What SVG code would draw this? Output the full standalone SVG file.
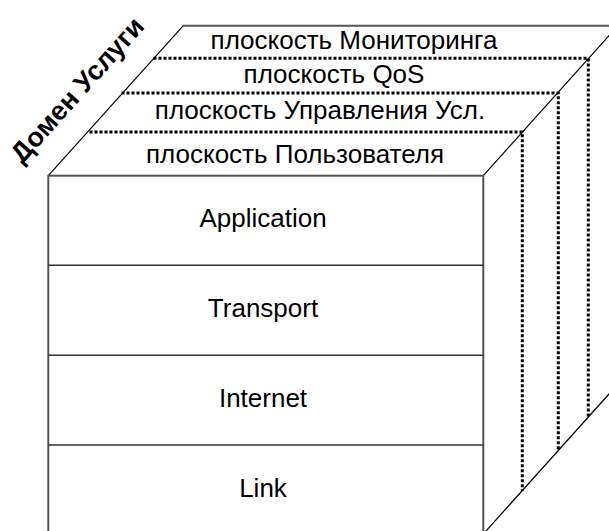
<svg xmlns="http://www.w3.org/2000/svg" width="609" height="531" viewBox="0 0 609 531">
<style>
.edge{fill:none;stroke:#000;stroke-width:1.2}
.frame{fill:none;stroke:#555;stroke-width:2}
.sep{fill:none;stroke:#333;stroke-width:1.5}
.dot{fill:none;stroke:#000;stroke-width:3;stroke-dasharray:3 2}
.lbl{font-family:"Liberation Sans",Arial,sans-serif;font-size:26px;fill:#000;text-anchor:middle}
.pl{font-family:"Liberation Sans",Arial,sans-serif;font-size:26px;fill:#000;text-anchor:middle}
.dom{font-family:"Liberation Sans",Arial,sans-serif;font-size:27px;font-weight:bold;fill:#000;text-anchor:middle}
</style>
<rect width="609" height="531" fill="#fff"/>
<g id="top-face">
<line class="frame" x1="183.3" y1="25.7" x2="618" y2="25.7"/>
<line class="edge" x1="48.3" y1="175.7" x2="183.3" y2="25.7"/>
<line class="edge" x1="483.3" y1="175.7" x2="618" y2="25.7"/>
</g>
<g id="side-face">
<line class="edge" x1="483.3" y1="534" x2="618" y2="384"/>
</g>
<g id="planes">
<g id="plane-monitoring"><text class="pl" x="354" y="49">плоскость Мониторинга</text></g>
<g id="plane-qos"><text class="pl" x="334" y="83">плоскость QoS</text></g>
<g id="plane-control"><text class="pl" x="320" y="119">плоскость Управления Усл.</text></g>
<g id="plane-user"><text class="pl" x="295" y="163">плоскость Пользователя</text></g>
</g>
<g id="connectors">
<polyline class="dot" points="153.5,58.3 588.3,58.3 588.3,417.3"/>
<polyline class="dot" points="121.5,93 558.3,93 558.3,450.7"/>
<polyline class="dot" points="89.5,132 522.3,132 522.3,490.7"/>
</g>
<g id="front">
<rect class="frame" x="48.3" y="175.7" width="435" height="358.3"/>
<line class="sep" x1="48.3" y1="265.3" x2="483.3" y2="265.3"/>
<line class="sep" x1="48.3" y1="355.3" x2="483.3" y2="355.3"/>
<line class="sep" x1="48.3" y1="445" x2="483.3" y2="445"/>
</g>
<g id="layer-application"><text class="lbl" x="263" y="226.7">Application</text></g>
<g id="layer-transport"><text class="lbl" x="263" y="316.7">Transport</text></g>
<g id="layer-internet"><text class="lbl" x="263" y="406.7">Internet</text></g>
<g id="layer-link"><text class="lbl" x="263" y="497.3">Link</text></g>
<g id="domain"><text class="dom" transform="translate(84,96) rotate(-48)">Домен Услуги</text></g>
</svg>
